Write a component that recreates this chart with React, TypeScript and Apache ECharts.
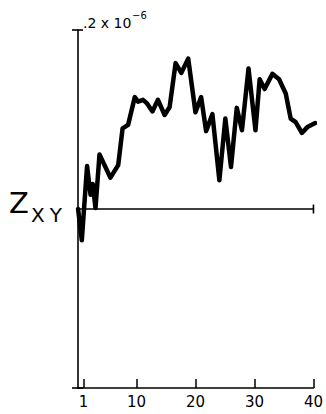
import React, { useEffect, useRef } from "react";
import * as echarts from "echarts";

// (y in units of 1e-6, axis top = .2x10^-6)
const xValues = [0.1, 0.73, 1.62, 2.21, 2.58, 3.05, 3.73, 5.58, 6.9, 7.64, 8.58, 9.71, 10.27, 11.11, 11.79, 12.7, 13.64, 14.77, 15.62, 16.63, 17.59, 18.77, 20.0, 20.96, 21.8, 22.87, 24.05, 25.06, 26.02, 27.0, 27.88, 28.99, 30.17, 30.88, 31.72, 33.04, 34.17, 35.3, 36.14, 36.98, 38.04, 39.06, 40.3];
const zxyValues = [0, -0.035, 0.048, 0.016, 0.028, 0.001, 0.061, 0.035, 0.049, 0.09, 0.094, 0.125, 0.12, 0.122, 0.118, 0.109, 0.122, 0.105, 0.114, 0.163, 0.152, 0.168, 0.108, 0.125, 0.087, 0.106, 0.032, 0.101, 0.047, 0.113, 0.088, 0.157, 0.088, 0.145, 0.134, 0.151, 0.145, 0.129, 0.101, 0.097, 0.085, 0.092, 0.096];
const xTickValues = [1, 10, 20, 30, 40];
const xTickLabels = ["1", "10", "20", "30", "40"];
const yMin = -0.2;
const yMax = 0.2;
const xMin = 0;
const xMax = 40;

const FONT = "DejaVu Sans";

export default function App() {
  const ref = useRef<HTMLDivElement>(null);
  useEffect(() => {
    if (!ref.current) return;
    const chart = echarts.init(ref.current, null, { renderer: "svg" });
    const data = xValues.map((x, i) => [x, zxyValues[i]]);
    chart.setOption({
      animation: false,
      backgroundColor: "#ffffff",
      grid: { left: 77.5, right: 11.7, top: 30, bottom: 26, containLabel: false },
      xAxis: [
        {
          type: "value",
          min: xMin,
          max: xMax,
          position: "bottom",
          axisLine: { onZero: false, lineStyle: { color: "#000", width: 1.6 } },
          axisTick: {
            show: true,
            inside: true,
            length: 9,
            customValues: xTickValues,
            lineStyle: { color: "#000", width: 1.5 },
          },
          axisLabel: {
            show: true,
            customValues: xTickValues,
            formatter: (v: number) => xTickLabels[xTickValues.indexOf(v)] ?? "",
            color: "#000",
            fontFamily: FONT,
            fontSize: 15,
            margin: 6,
          },
          splitLine: { show: false },
        },
        {
          type: "value",
          min: xMin,
          max: xMax,
          position: "top",
          axisLine: {
            show: true,
            onZero: true,
            onZeroAxisIndex: 0,
            symbol: ["none", "rect"],
            symbolSize: [9, 1.6],
            lineStyle: { color: "#000", width: 1.5 },
          },
          axisTick: { show: false },
          axisLabel: { show: false },
          splitLine: { show: false },
        },
      ],
      yAxis: {
        type: "value",
        min: yMin,
        max: yMax,
        axisLine: {
          show: true,
          onZero: false,
          symbol: ["rect", "rect"],
          symbolSize: [11, 1.6],
          lineStyle: { color: "#000", width: 1.6 },
        },
        axisTick: { show: false },
        axisLabel: { show: false },
        splitLine: { show: false },
      },
      series: [
        {
          type: "line",
          xAxisIndex: 0,
          data,
          showSymbol: false,
          clip: false,
          lineStyle: { color: "#000", width: 4.5, join: "round", cap: "round" },
        },
      ],
      graphic: [
        {
          type: "text",
          style: {
            text: "Z",
            x: 9,
            y: 203,
            fill: "#000",
            font: `29px "${FONT}"`,
            verticalAlign: "middle",
            align: "left",
          },
        },
        {
          type: "text",
          style: {
            text: "{a|X}{b|Y}",
            x: 31,
            y: 215,
            verticalAlign: "middle",
            align: "left",
            rich: {
              a: { fontFamily: FONT, fontSize: 20, fill: "#000", color: "#000", padding: [0, 5, 0, 0] },
              b: { fontFamily: FONT, fontSize: 20, fill: "#000", color: "#000" },
            },
          },
        },
        {
          type: "text",
          style: {
            text: ".2 x 10",
            x: 83,
            y: 23,
            fill: "#000",
            font: `14px "${FONT}"`,
            verticalAlign: "middle",
            align: "left",
          },
        },
        {
          type: "text",
          style: {
            text: "−6",
            x: 132,
            y: 15,
            fill: "#000",
            font: `10px "${FONT}"`,
            verticalAlign: "middle",
            align: "left",
          },
        },
      ],
    });
    return () => chart.dispose();
  }, []);
  return (
    <div
      ref={ref}
      style={{ position: "fixed", left: 0, top: 0, width: 326, height: 414, background: "#fff" }}
    />
  );
}
